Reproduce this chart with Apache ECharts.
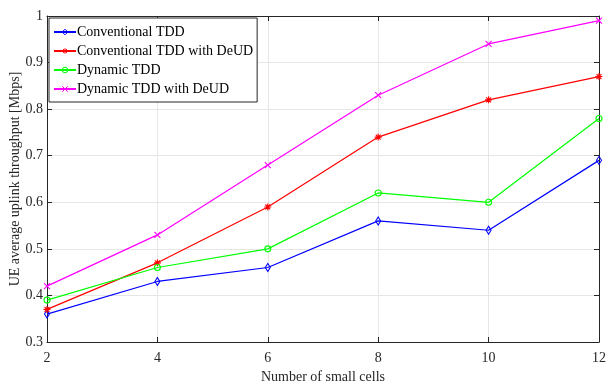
<!DOCTYPE html>
<html><head><meta charset="utf-8">
<script src="https://cdn.jsdelivr.net/npm/echarts@6/dist/echarts.min.js"></script>
<style>html,body{margin:0;padding:0;background:#fff}#c{width:608px;height:383px}</style>
</head><body><div id="c"></div>
<script>
const xCats = [2, 4, 6, 8, 10, 12];
const convTDD = [0.36, 0.43, 0.46, 0.56, 0.54, 0.69];
const convTDDDeUD = [0.37, 0.47, 0.59, 0.74, 0.82, 0.87];
const dynTDD = [0.39, 0.46, 0.50, 0.62, 0.60, 0.78];
const dynTDDDeUD = [0.42, 0.53, 0.68, 0.83, 0.94, 0.99];
const seriesNames = ['Conventional TDD', 'Conventional TDD with DeUD', 'Dynamic TDD', 'Dynamic TDD with DeUD'];

const F = '"Liberation Serif", "Times New Roman", serif';
const asterisk = 'path://M5,0L5,10M0,5L10,5M1.5,1.5L8.5,8.5M8.5,1.5L1.5,8.5';
const cross = 'path://M0,0L10,10M10,0L0,10';
const diamond = 'path://M5,0L8,5L5,10L2,5Z';

function mk(name, data, color, symbol, size) {
  return {
    name, type: 'line', data: xCats.map((x, i) => [x, data[i]]),
    symbol, symbolSize: size, showSymbol: true,
    lineStyle: { color, width: 1.2 },
    itemStyle: { color: 'transparent', borderColor: color, borderWidth: 1.1 },
    emphasis: { disabled: true }
  };
}

const chart = echarts.init(document.getElementById('c'), null, { renderer: 'canvas' });
const axisCommon = {
  axisLine: { show: true, lineStyle: { color: '#262626', width: 1 } },
  axisTick: { show: true, inside: true, length: 5, lineStyle: { color: '#262626' } }
};
chart.setOption({
  animation: false,
  grid: { left: 47, right: 9, top: 16, bottom: 41, containLabel: false, outerBoundsMode: 'none' },
  legend: {
    orient: 'vertical', left: 49, top: 18,
    data: seriesNames,
    backgroundColor: '#fff', borderColor: '#262626', borderWidth: 1,
    padding: [6, 4, 5, 4], itemGap: 3, itemWidth: 22, itemHeight: 7,
    textStyle: { fontFamily: F, fontSize: 14, color: '#000', padding: [0, 0, 0, -4], lineHeight: 16 },
    itemStyle: { borderWidth: 1 }
  },
  xAxis: [
    Object.assign({}, axisCommon, {
      type: 'value', min: 2, max: 12, interval: 2,
      name: 'Number of small cells', nameLocation: 'middle', nameGap: 28, nameMoveOverlap: false,
      nameTextStyle: { fontFamily: F, fontSize: 14, color: '#262626' },
      splitLine: { show: true, lineStyle: { color: '#e6e6e6', width: 1 } },
      axisLabel: { color: '#262626', fontFamily: F, fontSize: 14, margin: 9 }
    }),
    Object.assign({}, axisCommon, {
      type: 'value', min: 2, max: 12, interval: 2, position: 'top',
      axisLabel: { show: false }, splitLine: { show: false }
    })
  ],
  yAxis: [
    Object.assign({}, axisCommon, {
      type: 'value', min: 0.3, max: 1, interval: 0.1,
      name: 'UE average uplink throughput [Mbps]', nameLocation: 'middle', nameGap: 25, nameMoveOverlap: false,
      nameTextStyle: { fontFamily: F, fontSize: 14, color: '#262626' },
      splitLine: { show: true, lineStyle: { color: '#e6e6e6', width: 1 } },
      axisLabel: { color: '#262626', fontFamily: F, fontSize: 14, margin: 4,
        formatter: v => (Math.round(v * 10) / 10).toString() }
    }),
    Object.assign({}, axisCommon, {
      type: 'value', min: 0.3, max: 1, interval: 0.1, position: 'right',
      axisLabel: { show: false }, splitLine: { show: false }
    })
  ],
  series: [
    mk(seriesNames[0], convTDD, '#0000ff', diamond, [5, 8]),
    mk(seriesNames[1], convTDDDeUD, '#ff0000', asterisk, 7),
    mk(seriesNames[2], dynTDD, '#00ff00', 'circle', 6),
    mk(seriesNames[3], dynTDDDeUD, '#ff00ff', cross, 6)
  ]
});
</script></body></html>
